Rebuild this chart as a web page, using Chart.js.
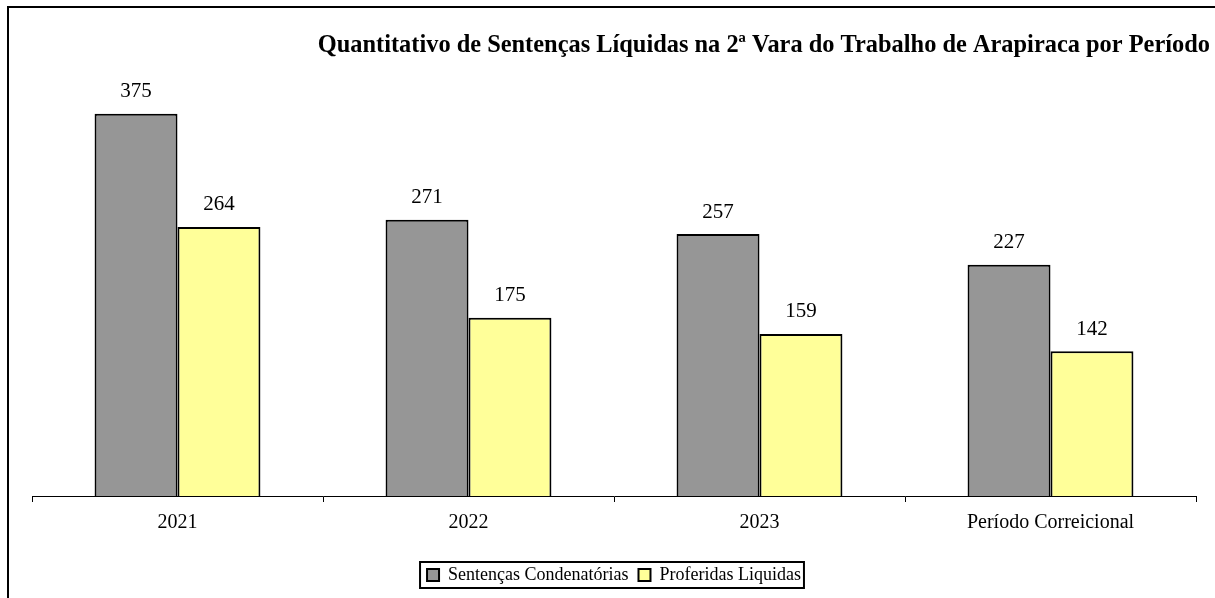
<!DOCTYPE html>
<html>
<head>
<meta charset="utf-8">
<script src="https://cdn.jsdelivr.net/npm/chart.js@4.4.1/dist/chart.umd.min.js"></script>
<style>
  html, body { margin: 0; padding: 0; background: #fff; }
  #wrap { position: relative; width: 1215px; height: 598px; }
  #frame { position: absolute; left: 7px; top: 6px; width: 1220px; height: 600px;
           border-left: 2px solid #000; border-top: 2px solid #000; pointer-events: none; }
  canvas { position: absolute; left: 0; top: 0; }
</style>
</head>
<body>
<div id="wrap">
  <canvas id="c" width="1215" height="598"></canvas>
  <div id="frame"></div>
</div>
<script>
const categories = ['2021', '2022', '2023', 'Período Correicional'];
const condenatorias = [375, 271, 257, 227];
const liquidas = [264, 175, 159, 142];
const seriesNames = ['Sentenças Condenatórias', 'Proferidas Liquidas'];
const titleText = 'Quantitativo de Sentenças Líquidas na 2ª Vara do Trabalho de Arapiraca por Período';

const SERIF = '"Liberation Serif", "Times New Roman", serif';

const titleDraw = {
  id: 'titleDraw',
  afterDraw(chart) {
    const ctx = chart.ctx;
    ctx.save();
    ctx.font = 'bold 24.4px ' + SERIF;
    ctx.fillStyle = '#000';
    ctx.textAlign = 'right';
    ctx.textBaseline = 'middle';
    ctx.fillText(titleText, 1210, 46);
    ctx.restore();
  }
};

const valueLabels = {
  id: 'valueLabels',
  afterDatasetsDraw(chart) {
    const ctx = chart.ctx;
    ctx.save();
    ctx.font = '21px ' + SERIF;
    ctx.fillStyle = '#000';
    ctx.textAlign = 'center';
    ctx.textBaseline = 'middle';
    chart.data.datasets.forEach((ds, di) => {
      const meta = chart.getDatasetMeta(di);
      meta.data.forEach((bar, i) => {
        ctx.fillText(String(ds.data[i]), bar.x, bar.y - 22);
      });
    });
    ctx.restore();
  }
};

const legendBox = {
  id: 'legendBox',
  afterDraw(chart) {
    const lg = chart.legend;
    if (!lg || !lg.legendHitBoxes || !lg.legendHitBoxes.length) return;
    const boxes = lg.legendHitBoxes;
    let l = Infinity, r = -Infinity, t = Infinity, b = -Infinity;
    boxes.forEach(h => { l = Math.min(l, h.left); r = Math.max(r, h.left + h.width); t = Math.min(t, h.top); b = Math.max(b, h.top + h.height); });
    const ctx = chart.ctx;
    ctx.save();
    ctx.strokeStyle = '#000';
    ctx.lineWidth = 2;
    ctx.strokeRect(l - 7, t - 4, (r - l) + 10, (b - t) + 8);
    ctx.restore();
  }
};

new Chart(document.getElementById('c'), {
  type: 'bar',
  data: {
    labels: categories,
    datasets: [
      { label: seriesNames[0], data: condenatorias, backgroundColor: '#969696', borderColor: '#000', borderWidth: 2, borderSkipped: 'bottom' },
      { label: seriesNames[1], data: liquidas, backgroundColor: '#FFFF99', borderColor: '#000', borderWidth: 2, borderSkipped: 'bottom' }
    ]
  },
  options: {
    responsive: false,
    animation: false,
    devicePixelRatio: 1,
    layout: { padding: { left: 32, right: 19, top: 68, bottom: 4 } },
    datasets: { bar: { categoryPercentage: 0.57, barPercentage: 1.0 } },
    scales: {
      x: {
        offset: true,
        afterFit(scale) { scale.height = 60; },
        grid: { offset: true, drawOnChartArea: false, drawTicks: true, tickLength: 6, color: '#000', lineWidth: 1 },
        border: { display: true, color: '#000', width: 1 },
        ticks: { color: '#000', font: { family: SERIF, size: 20 }, padding: 9 }
      },
      y: {
        display: false,
        min: 0,
        max: 420
      }
    },
    plugins: {
      title: { display: false },
      legend: {
        position: 'bottom',
        labels: {
          color: '#000',
          font: { family: SERIF, size: 18 },
          boxWidth: 12,
          boxHeight: 12,
          padding: 10
        }
      },
      tooltip: { enabled: false }
    }
  },
  plugins: [valueLabels, legendBox, titleDraw]
});
</script>
</body>
</html>
